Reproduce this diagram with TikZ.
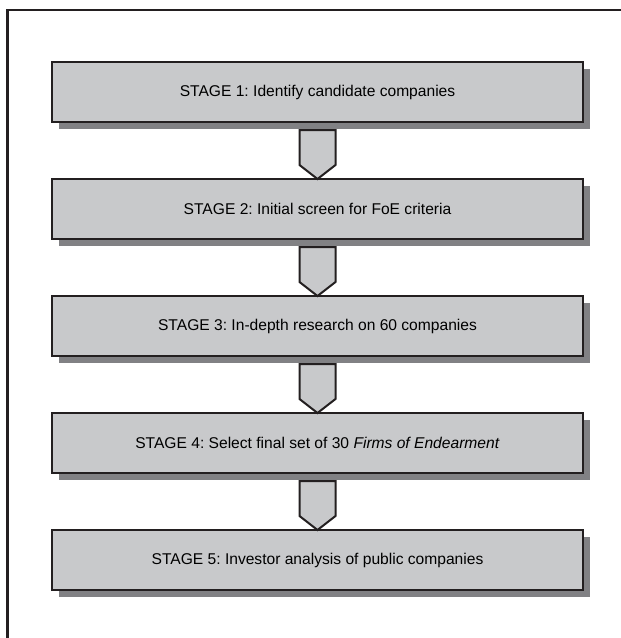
\documentclass[tikz,border=0pt]{standalone}
\usepackage{fontspec}
\setmainfont{Liberation Sans}
\usetikzlibrary{calc,shadows}
\definecolor{boxgray}{HTML}{C8C9CB}
\definecolor{shadowgray}{HTML}{818184}
\definecolor{inkdark}{HTML}{231F20}
\frenchspacing
\tikzset{
  stagebox/.style={draw=inkdark, line width=2pt, fill=boxgray, outer sep=0pt,
    minimum width=531pt, minimum height=60pt, inner sep=0pt,
    font=\fontsize{15.6}{18}\selectfont\frenchspacing,
    drop shadow={shadow xshift=7pt, shadow yshift=-7pt, fill=shadowgray, opacity=1}},
  downarrow/.style={draw=inkdark, line width=2pt, fill=boxgray, line join=miter},
  frameline/.style={draw=inkdark, line width=2.4pt}
}
\begin{document}
\begin{tikzpicture}[x=1pt,y=1pt]
\useasboundingbox (0,0) rectangle (621,-638);
\draw[frameline] (7.5,-640) -- (7.5,-10) -- (623,-10);
\node[stagebox] (s1) at (317.5,-92) {STAGE 1: Identify candidate companies};
\node[stagebox] (s2) at (317.5,-209) {STAGE 2: Initial screen for FoE criteria};
\node[stagebox] (s3) at (317.5,-326) {STAGE 3: In-depth research on 60 companies};
\node[stagebox] (s4) at (317.5,-443) {STAGE 4: Select final set of 30 \textit{Firms of Endearment}};
\node[stagebox] (s5) at (317.5,-560) {STAGE 5: Investor analysis of public companies};
\foreach \a/\b in {s1/s2,s2/s3,s3/s4,s4/s5}{
  \draw[downarrow] ($(\a.south)+(-18,-8)$) -- ($(\a.south)+(18,-8)$)
    -- ($(\b.north)+(18,14)$) -- (\b.north) -- ($(\b.north)+(-18,14)$) -- cycle;
}
\end{tikzpicture}
\end{document}
